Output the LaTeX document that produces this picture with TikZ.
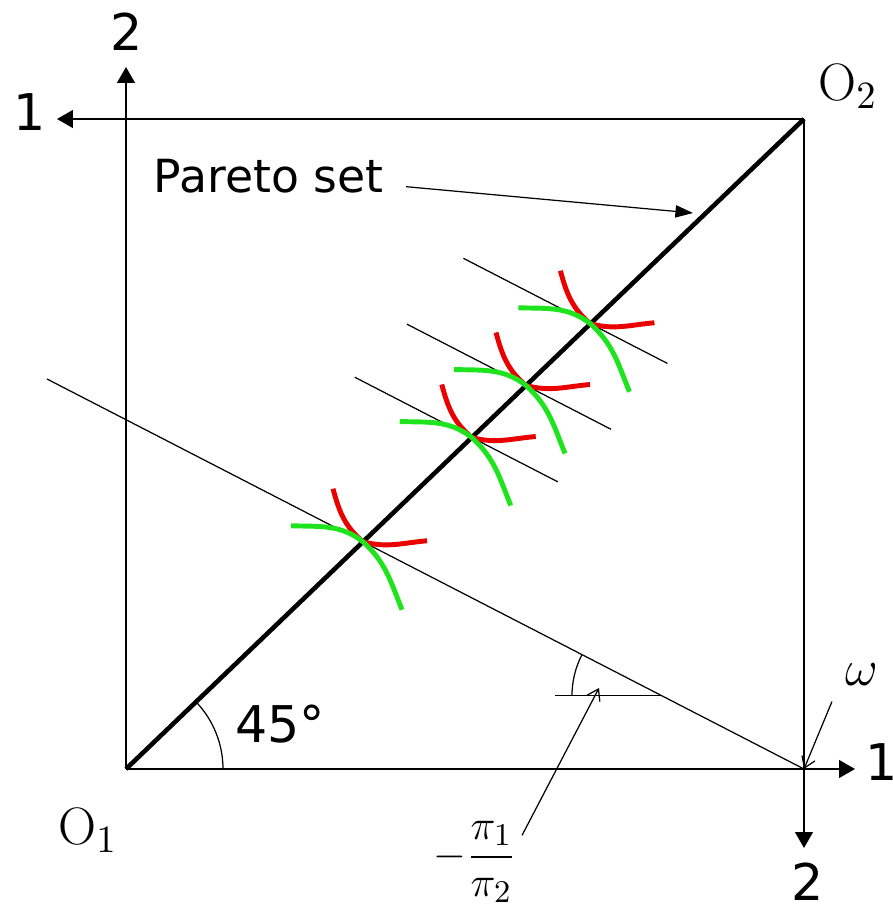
\documentclass[tikz,border=0pt]{standalone}
\usepackage{amsmath,amssymb}
\usepackage{fontspec}
\setsansfont{DejaVu Sans}
\usetikzlibrary{arrows.meta,calc}
\definecolor{indred}{RGB}{235,0,0}
\definecolor{indgreen}{RGB}{30,228,30}

\begin{document}
\begin{tikzpicture}[every node/.style={font=\sffamily\fontsize{14.4}{16}\selectfont, inner sep=0pt},
	>={Triangle[length=4.5pt,width=5pt]},
	axis/.style={line width=0.6pt},
	thinline/.style={line width=0.35pt},
	mathlabel/.style={font=\fontsize{15}{18}\selectfont},
	redcurve/.style={indred, line width=1.4pt},
	greencurve/.style={indgreen, line width=1.4pt}]
	\useasboundingbox (-1.26,-1.39) rectangle (7.67,7.69);
	% the box and its two origins
	\coordinate (O1) at (0,0);
	\coordinate (O2) at (6.78,6.50);
	\coordinate (C) at (O2 |- O1);
	\coordinate (tip2L) at (0,7.02);
	\coordinate (tip1T) at (-0.69,6.50);
	\coordinate (tip2R) at (6.78,-0.79);
	\coordinate (tip1B) at (7.29,0);
	\draw[axis,->] (O1) -- (tip2L);
	\draw[axis,->] (O2) -- (tip1T);
	\draw[axis,->] (O2) -- (tip2R);
	\draw[axis,->] (O1) -- (tip1B);
	\node (l2L) at (0.01,7.37) {2};
	\node (l1T) at (-0.96,6.57) {1};
	\node (l2R) at (6.82,-1.13) {2};
	\node (l1B) at (7.56,0.07) {1};
	\node[mathlabel] (o1) at (-0.38,-0.61) {$\mathrm{O}_1$};
	\node[mathlabel] (o2) at (7.22,6.83) {$\mathrm{O}_2$};
	% contract curve
	\draw[line width=1.3pt] (O1) -- (O2);
	\draw[thinline] ($(O1)+(0.97,0)$) arc[start angle=0, end angle=43.8, radius=0.97];
	\node (deg) at (1.54,0.45) {45°};
	\node[anchor=base west, font=\sffamily\fontsize{13}{15}\selectfont] (pareto) at (0.27,5.77) {Pareto set};
	\coordinate (ptip) at (5.67,5.56);
	\draw[thinline, -{Triangle[length=5pt,width=3.5pt]}] ([shift={(0.22,-0.11)}]pareto.east) -- (ptip);
	% budget line and its parallels
	\coordinate (wL) at (-0.79,3.90);
	\coordinate (P1) at ($(O1)!0.3496!(O2)$);
	\draw[thinline] (wL) -- (C);
	\foreach \n/\t/\a/\b in {2/0.51/1.17/0.86, 3/0.59/1.19/0.85, 4/0.685/1.27/0.77}{
		\coordinate (P\n) at ($(O1)!\t!(O2)$);
		\draw[thinline] ($(P\n)+(-\a,0.5152*\a)$) -- ($(P\n)+(\b,-0.5152*\b)$);
	}
	% indifference curves
	\foreach \p in {P1,P2,P3,P4}{
		\draw[redcurve] ($(\p)+(-0.3,0.53)$) to[out=-75,in=140] (\p) to[out=-15,in=185] ($(\p)+(0.64,0.01)$);
		\draw[greencurve] ($(\p)+(-0.72,0.16)$) to[out=-2,in=142] (\p) to[out=-42,in=112] ($(\p)+(0.39,-0.68)$);
	}
	% slope of the budget line
	\coordinate (A) at ($(C)!0.1876!(wL)$);
	\draw[thinline] (A) -- ++(-1.07,0);
	\draw[thinline] ($(A)+(-0.9,0)$) arc[start angle=180, end angle=152.75, radius=0.9];
	\node[font=\fontsize{13}{16}\selectfont] (ratio) at (3.49,-0.93) {$-\dfrac{\pi_1}{\pi_2}$};
	\coordinate (rtip) at (4.73,0.81);
	\draw[thinline, -{Straight Barb[length=3pt,width=4pt]}] ([shift={(0.05,-0.15)}]ratio.north east) -- (rtip);
	\node[mathlabel] (omega) at (7.36,0.94) {$\omega$};
	\draw[thinline, -{Straight Barb[length=3pt,width=4pt]}] ([shift={(-0.13,-0.15)}]omega.south west) -- (C);
\end{tikzpicture}
\end{document}
